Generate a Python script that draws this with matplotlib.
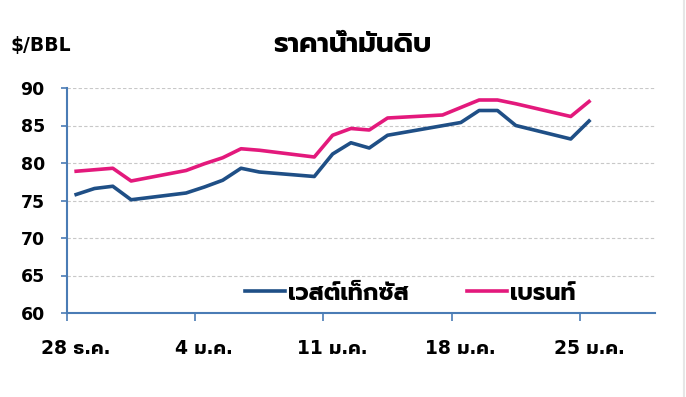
import matplotlib
matplotlib.use("Agg")
from matplotlib import pyplot as plt
from matplotlib.lines import Line2D

plt.rcParams['font.family'] = ['DejaVu Sans', 'Prompt']
plt.rcParams['font.weight'] = 'bold'

# days counted from 28 Dec, points sit in the middle of each day
wti_days = [0, 1, 2, 3, 6, 7, 8, 9, 10, 13, 14, 15, 16, 17, 21, 22, 23, 24, 27, 28]
wti = [75.8, 76.6, 76.9, 75.1, 76.0, 76.8, 77.7, 79.3, 78.8, 78.2,
       81.2, 82.7, 82.0, 83.7, 85.4, 87.0, 87.0, 85.0, 83.2, 85.6]
brent_days = [0, 1, 2, 3, 6, 7, 8, 9, 10, 13, 14, 15, 16, 17, 20, 21, 22, 23, 24, 27, 28]
brent = [78.9, 79.1, 79.3, 77.6, 79.0, 79.9, 80.7, 81.9, 81.7, 80.8,
         83.7, 84.6, 84.4, 86.0, 86.4, 87.4, 88.4, 88.4, 87.9, 86.2, 88.2]
tick_days = [0, 7, 14, 21, 28]
tick_labels = ['28 ธ.ค.', '4 ม.ค.', '11 ม.ค.', '18 ม.ค.', '25 ม.ค.']
yticks = [60, 65, 70, 75, 80, 85, 90]

blue = '#1f4f86'
pink = '#e3197c'
axis_col = '#4a7cb5'

fig = plt.figure(figsize=(6.86, 3.97), dpi=100)
ax = fig.add_axes([67/686, 1-313/397, 588/686, 225/397])

ax.plot([d + 0.5 for d in wti_days], wti, color=blue, lw=2.6, label='เวสต์เท็กซัส')
ax.plot([d + 0.5 for d in brent_days], brent, color=pink, lw=2.6, label='เบรนท์')

ax.set_xlim(0, 32.1)
ax.set_ylim(60, 90)
ax.set_yticks(yticks)
ax.set_yticklabels([str(v) for v in yticks], fontsize=12.5, fontweight='bold')
ax.set_xticks(tick_days)
ax.set_xticklabels([])
ax.set_xticks([d + 0.5 for d in tick_days], minor=True)
ax.set_xticklabels(tick_labels, minor=True, fontsize=13.5, fontweight='bold')
ax.tick_params(axis='x', which='major', length=6, width=1.2, color=axis_col, direction='out')
ax.tick_params(axis='x', which='minor', length=0, pad=19)
ax.tick_params(axis='y', length=4, width=1.2, color=axis_col, pad=12)

for s in ['top', 'right']:
    ax.spines[s].set_visible(False)
for s in ['left', 'bottom']:
    ax.spines[s].set_color(axis_col)
    ax.spines[s].set_linewidth(1.5)

ax.yaxis.grid(True, color='#c8c8c8', ls=(0, (3, 2)), lw=0.8)
ax.set_axisbelow(True)

ax.legend(loc='center left', bbox_to_anchor=(0.275, 0.09), ncol=2, frameon=False,
          prop={'size': 17, 'weight': 'bold'}, handlelength=1.7,
          handletextpad=0.12, columnspacing=2.45, borderpad=0.2)

fig.text(10/686, 1-46/397, '$/BBL', fontsize=13.5, fontweight='bold', va='center')
fig.text(352/686, 1-44/397, 'ราคาน้ำมันดิบ', fontsize=20, fontweight='bold',
         va='center', ha='center')
fig.add_artist(Line2D([684/686, 684/686], [0, 1], color='#e6e6e6', lw=1.5))

fig.savefig('out.png', dpi=100)
